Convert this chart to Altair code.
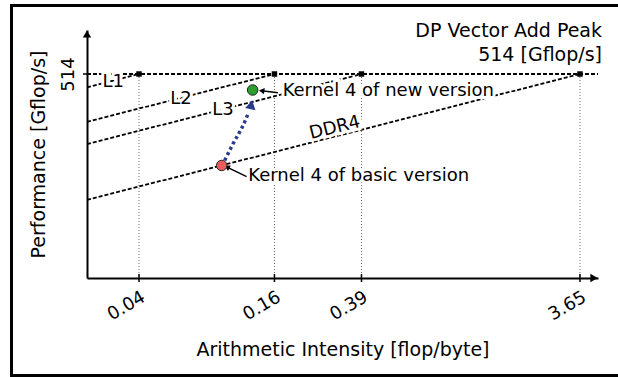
import altair as alt
import pandas as pd

FONT = "DejaVu Sans"

# ---- data ----
peak = 514.0
ridge_names = ["L1", "L2", "L3", "DDR4"]
ridge_ai = [0.04, 0.16, 0.39, 3.65]          # ridge points [flop/byte]
x_ticks = [0.04, 0.16, 0.39, 3.65]
y_ticks = [514]

x_min, x_max = 0.02349, 4.39
y_min, y_max = 0.1435, 3004.0

# roof-line labels
label_ai = [0.0307, 0.0615, 0.0945, 0.297]
label_perf = [373.0, 188.6, 121.3, 58.9]
label_angle = [0, 0, 0, 346]

# kernels
kernel_names = ["Kernel 4 of basic version", "Kernel 4 of new version"]
kernel_ai = [0.0932, 0.128]
kernel_perf = [13.1, 270.5]
kernel_colors = ["#f05a5a", "#2ca02c"]
kernel_text_ai = [0.1224, 0.174]
kernel_text_perf = [8.59, 260.0]
pointer_tail_ai = [0.1204, 0.1659]
pointer_tail_perf = [8.36, 242.7]
pointer_head_ai = [0.0984, 0.1404]
pointer_head_perf = [12.3, 263.0]
pointer_angle = [26, 7]

# dotted improvement arrow path
arrow_ai = [0.0932, 0.0964, 0.1050, 0.1144, 0.1224]
arrow_perf = [13.1, 16.3, 31.9, 58.2, 106.3]
arrow_tip_ai = [0.1262]
arrow_tip_perf = [150.0]

title_lines = ["DP Vector Add Peak", "514 [Gflop/s]"]

# ---- tables ----
W, H = 511, 248

lines_rows = []
for n, r in zip(ridge_names, ridge_ai):
    lines_rows.append({"name": n, "x": x_min, "y": peak * x_min / r})
    lines_rows.append({"name": n, "x": r, "y": peak})
lines_rows.append({"name": "roof", "x": x_min, "y": peak})
lines_rows.append({"name": "roof", "x": x_max, "y": peak})
lines_df = pd.DataFrame(lines_rows)

ridge_df = pd.DataFrame({"x": ridge_ai, "y": [peak] * len(ridge_ai)})
label_df = pd.DataFrame({"x": label_ai, "y": label_perf, "t": ridge_names, "a": label_angle})
kernel_df = pd.DataFrame({"x": kernel_ai, "y": kernel_perf, "name": kernel_names, "c": kernel_colors})
ktext_df = pd.DataFrame({"x": kernel_text_ai, "y": kernel_text_perf, "t": kernel_names})
pointer_df = pd.DataFrame({"x": pointer_tail_ai, "y": pointer_tail_perf,
                           "x2": pointer_head_ai, "y2": pointer_head_perf})
phead_df = pd.DataFrame({"x": pointer_head_ai, "y": pointer_head_perf, "a": pointer_angle})
arrow_df = pd.DataFrame({"x": arrow_ai, "y": arrow_perf, "o": list(range(len(arrow_ai)))})
atip_df = pd.DataFrame({"x": arrow_tip_ai, "y": arrow_tip_perf})
xt_df = pd.DataFrame({"x": x_ticks})
yt_df = pd.DataFrame({"y": y_ticks})

xaxis = alt.Axis(values=x_ticks, format=".2f", labelAngle=-30, grid=False, ticks=False,
                 domainColor="black", domainWidth=2, labelFont=FONT, labelFontSize=18,
                 labelColor="black", labelPadding=10,
                 title="Arithmetic Intensity [flop/byte]", titleFont=FONT, titleFontSize=19,
                 titleFontWeight="normal", titleColor="black", titleY=77,
                 titleBaseline="alphabetic")
yaxis = alt.Axis(values=y_ticks, format="d", labelAngle=-90, grid=False, ticks=False,
                 domainColor="black", domainWidth=2, labelFont=FONT, labelFontSize=18,
                 labelColor="black", labelPadding=10,
                 title="Performance [Gflop/s]", titleFont=FONT, titleFontSize=19,
                 titleFontWeight="normal", titleColor="black", titleX=-43,
                 titleBaseline="alphabetic")

xs = alt.Scale(type="log", domain=[x_min, x_max])
ys = alt.Scale(type="log", domain=[y_min, y_max])


def X(f="x"):
    return alt.X(f, type="quantitative", scale=xs, axis=xaxis)


def Y(f="y"):
    return alt.Y(f, type="quantitative", scale=ys, axis=yaxis)


base_lines = alt.Chart(lines_df).mark_line(
    color="black", strokeDash=[4, 2], strokeWidth=1.8
).encode(x=X(), y=Y(), detail="name:N")

vdots = alt.Chart(ridge_df).mark_rule(
    color="#666666", strokeDash=[1, 2], strokeWidth=1
).encode(x=X(), y=Y(), y2=alt.value(H))

frame = alt.Chart(ridge_df).mark_rect(
    filled=False, stroke="black", strokeWidth=2.5
).encode(x=alt.value(-75.5), x2=alt.value(700), y=alt.value(-24.5), y2=alt.value(345.5))

label_halo = alt.Chart(label_df).mark_text(
    font=FONT, fontSize=18, fill="white", stroke="white", strokeWidth=6
).encode(x=X(), y=Y(), text="t:N", angle=alt.Angle("a:Q", scale=None))
label_txt = alt.Chart(label_df).mark_text(
    font=FONT, fontSize=18, color="black"
).encode(x=X(), y=Y(), text="t:N", angle=alt.Angle("a:Q", scale=None))

squares = alt.Chart(ridge_df).mark_square(size=30, color="black", opacity=1).encode(x=X(), y=Y())

arrow_line = alt.Chart(arrow_df).mark_line(
    color="#2a3a8c", strokeDash=[3, 3], strokeWidth=3.5, interpolate="natural"
).encode(x=X(), y=Y(), order="o:Q")
arrow_tip = alt.Chart(atip_df).mark_point(
    shape="triangle-up", filled=True, color="#2a3a8c", size=110, opacity=1, angle=12
).encode(x=X(), y=Y())

pointer = alt.Chart(pointer_df).mark_rule(color="black", strokeWidth=1.5).encode(
    x=X(), y=Y(), x2="x2:Q", y2="y2:Q")
phead = alt.Chart(phead_df).mark_point(
    shape="triangle-left", filled=True, color="black", size=40, opacity=1
).encode(x=X(), y=Y(), angle=alt.Angle("a:Q", scale=None))

kpoints = alt.Chart(kernel_df).mark_point(
    shape="circle", filled=True, size=110, stroke="#222222", strokeWidth=1, opacity=1
).encode(x=X(), y=Y(), fill=alt.Fill("c:N", scale=None))

ktext_halo = alt.Chart(ktext_df).mark_text(
    font=FONT, fontSize=18, align="left", fill="white", stroke="white", strokeWidth=6
).encode(x=X(), y=Y(), text="t:N")
ktext = alt.Chart(ktext_df).mark_text(
    font=FONT, fontSize=18, align="left", color="black"
).encode(x=X(), y=Y(), text="t:N")

xticks = alt.Chart(xt_df).mark_rule(color="black", strokeWidth=1.5).encode(
    x=X(), y=alt.value(H - 4), y2=alt.value(H + 4))
yticks = alt.Chart(yt_df).mark_rule(color="black", strokeWidth=1.5).encode(
    y=Y(), x=alt.value(-4), x2=alt.value(4))

yarrow = alt.Chart(yt_df).mark_point(
    shape="triangle-up", filled=True, color="black", size=70, opacity=1
).encode(x=alt.value(0), y=alt.value(4))
xarrow = alt.Chart(yt_df).mark_point(
    shape="triangle-right", filled=True, color="black", size=70, opacity=1
).encode(x=alt.value(W - 4), y=alt.value(H))

title_df = pd.DataFrame({"t": title_lines, "py": [7, 31]})
title = alt.Chart(title_df).mark_text(
    font=FONT, fontSize=19, align="right", baseline="alphabetic", color="black"
).encode(x=alt.value(W + 4), y=alt.Y("py:Q", scale=None), text="t:N")

chart = alt.layer(
    frame, vdots, base_lines, label_halo, label_txt, squares,
    pointer, phead, arrow_line, arrow_tip, kpoints, ktext_halo, ktext,
    xticks, yticks, yarrow, xarrow, title
).properties(
    width=W, height=H,
    autosize=alt.AutoSizeParams(type="none"),
    padding={"left": 87, "top": 30, "right": 20, "bottom": 99},
    background="white",
).configure_view(strokeWidth=0)

chart.save("out.html", embed_options={"renderer": "svg", "actions": False})
